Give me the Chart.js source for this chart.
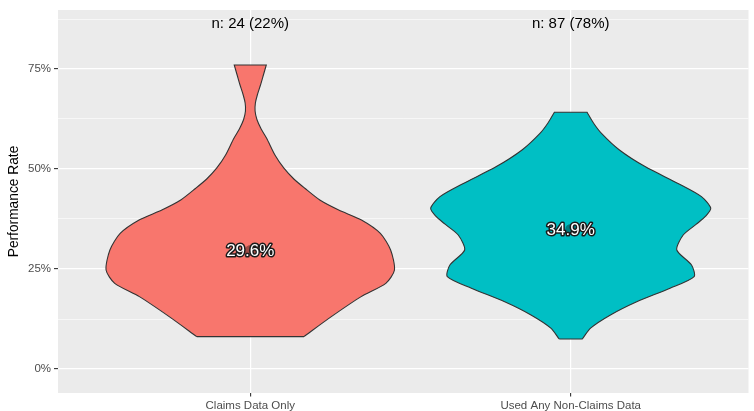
<!DOCTYPE html>
<html><head><meta charset="utf-8">
<script src="https://cdn.jsdelivr.net/npm/chart.js@4/dist/chart.umd.min.js"></script>
<style>html,body{margin:0;padding:0;background:#fff;} canvas{display:block;}</style>
</head><body>
<canvas id="c" width="754" height="411"></canvas>
<script>
const categories = ['Claims Data Only', 'Used Any Non-Claims Data'];
const groupCounts = [24, 87];
const groupShares = [22, 78];
const groupMeans = [29.6, 34.9];
const yTickValues = [0, 12.5, 25, 37.5, 50, 62.5, 75, 87.5];
const yTickLabels = ['0%', '', '25%', '', '50%', '', '75%', ''];
const nLabelLevel = 86.4;

// violin outlines: performance level (%) and half width (category units)
const claimsLevels    = [8.1, 13.1, 18.1, 21.4, 24.75, 29.75, 33.9, 37.25, 39.75, 42.25, 45.2, 47.5, 50.2, 53.5, 57.7, 60, 62.3, 64.5, 66.5, 68.5, 71, 73.5, 76];
const claimsHalfWidth = [0.167, 0.253, 0.346, 0.423, 0.450, 0.438, 0.406, 0.347, 0.276, 0.217, 0.170, 0.136, 0.105, 0.077, 0.051, 0.034, 0.021, 0.015, 0.016, 0.022, 0.032, 0.041, 0.050];
const nonClaimsLevels    = [7.5, 10.2, 13.5, 16.8, 20.2, 23.1, 26, 29.75, 33.5, 36.2, 38.2, 40.2, 43.1, 46.4, 50.6, 54.75, 58.9, 61.5, 64.2];
const nonClaimsHalfWidth = [0.036, 0.062, 0.124, 0.206, 0.310, 0.385, 0.377, 0.331, 0.351, 0.392, 0.421, 0.437, 0.408, 0.335, 0.232, 0.152, 0.096, 0.071, 0.051];

const fillColors = ['#F8766D', '#00BFC4'];
const FONT = '"Liberation Sans", Arial, Helvetica, sans-serif';

function outline(center, levels, hw) {
  const n = levels.length, pts = [];
  const L = i => ({x: center - hw[i], y: levels[i]});
  const R = i => ({x: center + hw[i], y: levels[i]});
  pts.push(L(0), L(0));
  for (let i = 1; i < n - 1; i++) pts.push(L(i));
  pts.push(L(n - 1), L(n - 1), R(n - 1), R(n - 1));
  for (let i = n - 2; i >= 1; i--) pts.push(R(i));
  pts.push(R(0), R(0), L(0));
  return pts;
}

const bgPlugin = {
  id: 'panelBg',
  beforeDraw(chart) {
    const {ctx, chartArea: a} = chart;
    ctx.save();
    ctx.fillStyle = '#EBEBEB';
    ctx.fillRect(a.left, a.top, a.right - a.left, a.bottom - a.top);
    ctx.restore();
  }
};

const labelPlugin = {
  id: 'labels',
  afterDatasetsDraw(chart) {
    const {ctx} = chart;
    const xs = chart.scales.x, ys = chart.scales.y;
    ctx.save();
    ctx.textAlign = 'center';
    ctx.textBaseline = 'middle';
    for (let i = 0; i < categories.length; i++) {
      const cx = xs.getPixelForValue(i + 1);
      const my = ys.getPixelForValue(groupMeans[i]);
      ctx.font = '17px ' + FONT;
      ctx.lineJoin = 'round';
      ctx.lineWidth = 3;
      ctx.strokeStyle = '#1a1a1a';
      const t = groupMeans[i].toFixed(1) + '%';
      ctx.strokeText(t, cx, my + 1);
      ctx.fillStyle = '#ffffff';
      ctx.fillText(t, cx, my + 1);
      ctx.font = '15px ' + FONT;
      ctx.fillStyle = '#000000';
      ctx.fillText('n: ' + groupCounts[i] + ' (' + groupShares[i] + '%)', cx, ys.getPixelForValue(nLabelLevel));
    }
    ctx.restore();
  }
};

const datasets = [
  {
    type: 'scatter',
    data: groupMeans.map((m, i) => ({x: i + 1, y: m})),
    pointRadius: 5.5,
    pointBackgroundColor: 'rgba(0,0,0,0.36)',
    pointBorderWidth: 0,
    order: 0
  },
  ...[[claimsLevels, claimsHalfWidth], [nonClaimsLevels, nonClaimsHalfWidth]].map(([lv, hw], i) => ({
    type: 'line',
    data: outline(i + 1, lv, hw),
    borderColor: '#333333',
    borderWidth: 1.1,
    backgroundColor: fillColors[i],
    fill: 'shape',
    tension: 0.25,
    pointRadius: 0,
    order: 1
  }))
];

new Chart(document.getElementById('c'), {
  type: 'line',
  data: {datasets},
  plugins: [bgPlugin, labelPlugin],
  options: {
    responsive: false,
    animation: false,
    devicePixelRatio: 1,
    layout: {padding: {top: 10, right: 0, bottom: 0, left: 0}},
    plugins: {legend: {display: false}, tooltip: {enabled: false}},
    scales: {
      x: {
        type: 'linear',
        min: 0.4,
        max: 0.4 + 696 / 323,
        afterBuildTicks: s => { s.ticks = categories.map((c, i) => ({value: i + 1})); },
        afterFit: s => { s.height = 18; },
        ticks: {
          callback: v => categories[Math.round(v) - 1],
          color: '#4D4D4D',
          font: {family: FONT, size: 11.5},
          padding: 2,
          maxRotation: 0,
          autoSkip: false
        },
        grid: {color: '#FFFFFF', lineWidth: 1.2, tickColor: '#333333', tickLength: 3.5, tickWidth: 1.1},
        border: {display: false}
      },
      y: {
        type: 'linear',
        min: -6,
        max: 89.75,
        afterBuildTicks: s => { s.ticks = yTickValues.map(v => ({value: v})); },
        afterFit: s => { s.width = 58; },
        ticks: {
          callback: v => yTickLabels[yTickValues.indexOf(v)],
          color: '#4D4D4D',
          font: {family: FONT, size: 11.5},
          padding: 3,
          autoSkip: false
        },
        grid: {
          color: '#FFFFFF',
          lineWidth: c => (c.tick && c.tick.value % 25 === 0) ? 1.2 : 0.6,
          tickColor: c => (c.tick && c.tick.value % 25 === 0) ? '#333333' : 'rgba(0,0,0,0)',
          tickLength: 4,
          tickWidth: 1.1
        },
        border: {display: false},
        title: {display: true, text: 'Performance Rate', color: '#000000', font: {family: FONT, size: 13.75}, padding: {top: 6, bottom: 0}}
      }
    }
  }
});
</script>
</body></html>
